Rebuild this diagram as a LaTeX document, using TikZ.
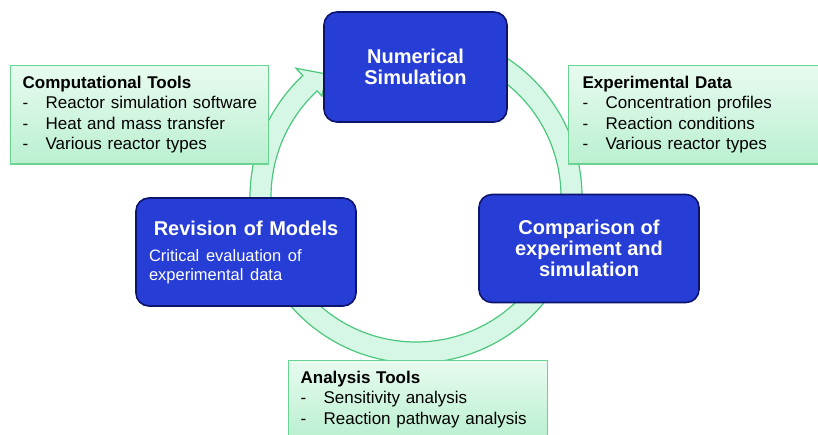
\documentclass[tikz,border=0pt]{standalone}
\usepackage{fontspec}
\setmainfont{Liberation Sans}
\definecolor{boxblue}{RGB}{38,62,214}
\definecolor{boxnavy}{RGB}{12,20,110}
\definecolor{mintline}{RGB}{105,212,146}
\definecolor{minttop}{RGB}{232,251,240}
\definecolor{mintbot}{RGB}{186,240,208}
\definecolor{ringfill}{RGB}{214,247,229}
\definecolor{ringline}{RGB}{75,200,125}
\newcommand{\itm}[1]{\par\makebox[23pt][l]{-}\mbox{#1}}
\tikzset{
  stage/.style={draw=boxnavy, line width=1.6pt, fill=boxblue, rounded corners=13pt,
    text=white, align=center, font=\fontsize{20}{21}\bfseries,
    minimum width=220pt, minimum height=108pt},
  info/.style={draw=mintline, line width=1.2pt, top color=minttop, bottom color=mintbot,
    anchor=north west, align=left, font=\fontsize{17}{20.5}\selectfont,
    inner xsep=12pt, inner ysep=10.5pt},
  ring/.style={draw=ringline, line width=1.2pt, fill=ringfill},
}

\begin{document}
\begin{tikzpicture}[x=1pt, y=-1pt]
  \fill[white] (0,0) rectangle (818,434);
  \useasboundingbox (0,0) rectangle (818,434);

  % circular arrow behind the boxes
  \coordinate (hub) at (416,197);
  \begin{scope}[shift={(hub)}]
    \draw[ring] (-100:166) arc[start angle=-100, end angle=227, radius=166]
      -- (227:176) -- (234:152) -- (227:138) -- (227:145)
      arc[start angle=227, end angle=-100, radius=145] -- cycle;
  \end{scope}

  % the three stages
  \node[stage, minimum width=183pt, minimum height=110pt] (num) at (415.5,67) {Numerical\\Simulation};
  \node[stage] (cmp) at (589,248.5) {Comparison of\\experiment and\\simulation};
  \node[stage, align=left, text width=194pt] (rev) at (246,252)
    {{\centering Revision of Models\par}\vspace{7pt}%
     {\fontsize{16.5}{19}\mdseries \mbox{Critical evaluation of}\par\mbox{experimental data}\par}};

  % side notes
  \node[info, text width=234pt] (tools) at (10,65)
    {\textbf{Computational Tools}\itm{Reactor simulation software}\itm{Heat and mass transfer}\itm{Various reactor types}};
  \node[info, text width=242pt, inner xsep=14pt] (data) at (568,65)
    {\textbf{Experimental Data}\itm{Concentration profiles}\itm{Reaction conditions}\itm{Various reactor types}};
  \node[info, text width=235pt] (ana) at (288,360)
    {\textbf{Analysis Tools}\itm{Sensitivity analysis}\itm{Reaction pathway analysis}};
\end{tikzpicture}
\end{document}
